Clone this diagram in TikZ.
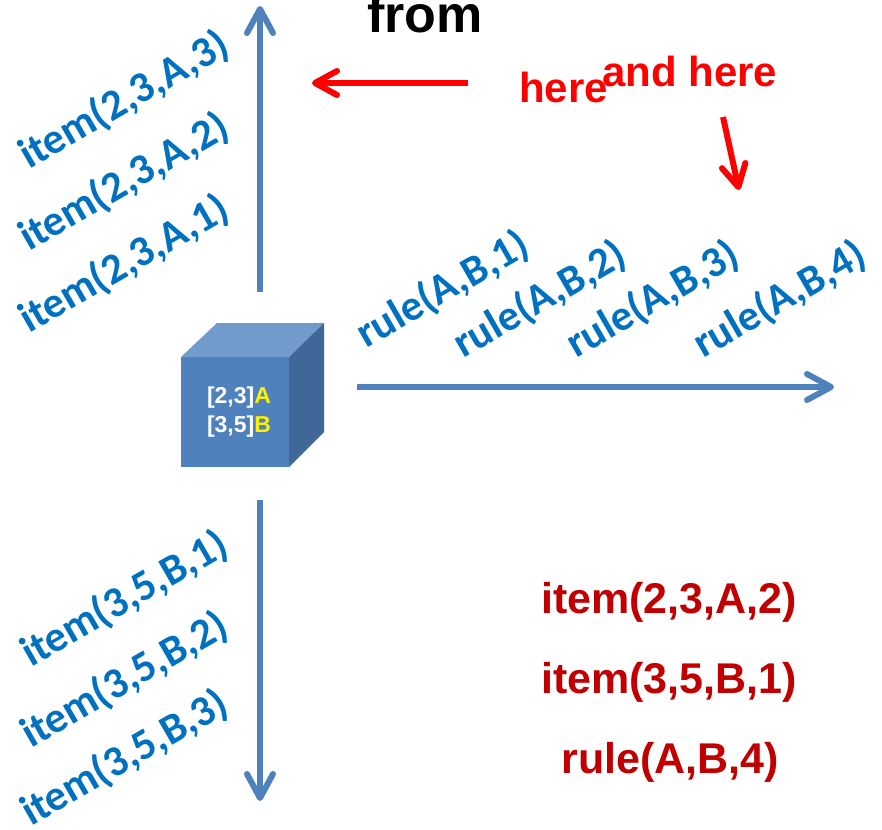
\documentclass[tikz,border=0pt]{standalone}
\usepackage{fontspec}
\setmainfont{Liberation Sans}
\newfontfamily\carlito{Carlito}
\usetikzlibrary{arrows.meta}

\definecolor{axisblue}{RGB}{79,129,189}
\definecolor{labelblue}{RGB}{0,112,192}
\definecolor{darkred}{RGB}{192,0,0}
\definecolor{facefront}{RGB}{79,129,189}
\definecolor{facetop}{RGB}{114,155,205}
\definecolor{faceside}{RGB}{63,103,152}

\begin{document}
\begin{tikzpicture}[x=1pt,y=-1pt,
  axis/.style={draw=axisblue,line width=6pt,
    -{Straight Barb[length=24pt,width=26pt,round]}},
  pointer/.style={draw=red,line width=6pt,
    -{Straight Barb[length=22pt,width=24pt,round]}},
  slanted/.style={anchor=base west,rotate=30,inner sep=0pt,text=labelblue,
    font=\carlito\bfseries\fontsize{43}{50}\selectfont},
  result/.style={anchor=base,inner sep=0pt,text=darkred,
    font=\bfseries\fontsize{43}{50}\selectfont},
  note/.style={anchor=base west,inner sep=0pt,text=red,
    font=\bfseries\fontsize{42}{50}\selectfont},
  cubetext/.style={anchor=base,inner sep=0pt,text=white,
    font=\bfseries\fontsize{23}{27}\selectfont}]

\useasboundingbox (0,0) rectangle (882,829);

% the cube
\fill[facefront] (181,357) rectangle (289,467);
\fill[facetop] (181,357) -- (217,323) -- (324,323) -- (289,357) -- cycle;
\fill[faceside] (289,357) -- (324,323) -- (324,432) -- (289,467) -- cycle;
\node[cubetext] (la) at (239,403) {[2,3]\textcolor{yellow}{A}};
\node[cubetext] (lb) at (239,432) {[3,5]\textcolor{yellow}{B}};

% axes leaving the cube
\coordinate (upstart) at (260,292);
\coordinate (upend) at (260,6);
\coordinate (downstart) at (260,500);
\coordinate (downend) at (260,801);
\coordinate (rightstart) at (357,387);
\coordinate (rightend) at (834,387);
\draw[axis] (upstart) -- (upend);
\draw[axis] (downstart) -- (downend);
\draw[axis] (rightstart) -- (rightend);

% items along the upward axis
\node[slanted] (a3) at (29,170) {item(2,3,A,3)};
\node[slanted] (a2) at (29,252) {item(2,3,A,2)};
\node[slanted] (a1) at (29,334) {item(2,3,A,1)};

% items along the downward axis
\node[slanted] (b1) at (31,668) {item(3,5,B,1)};
\node[slanted] (b2) at (31,749) {item(3,5,B,2)};
\node[slanted] (b3) at (31,827) {item(3,5,B,3)};

% rules along the horizontal axis
\node[slanted] (r1) at (366,349) {rule(A,B,1)};
\node[slanted] (r2) at (463,359) {rule(A,B,2)};
\node[slanted] (r3) at (576,359) {rule(A,B,3)};
\node[slanted] (r4) at (703,359) {rule(A,B,4)};

% selected elements
\node[result] (s1) at (669,613) {item(2,3,A,2)};
\node[result] (s2) at (669,693) {item(3,5,B,1)};
\node[result] (s3) at (670,773) {rule(A,B,4)};

% annotations
\node[anchor=base west,inner sep=0pt,font=\bfseries\fontsize{52}{60}\selectfont]
  (from) at (367,33) {from};
\node[note] (here) at (519,103) {here};
\node[note] (andhere) at (602,87) {and here};

\coordinate (p1start) at (468,83);
\coordinate (p1end) at (312,83);
\coordinate (p2start) at (723,117);
\coordinate (p2end) at (739,190);
\draw[pointer] (p1start) -- (p1end);
\draw[pointer] (p2start) -- (p2end);
\end{tikzpicture}
\end{document}
